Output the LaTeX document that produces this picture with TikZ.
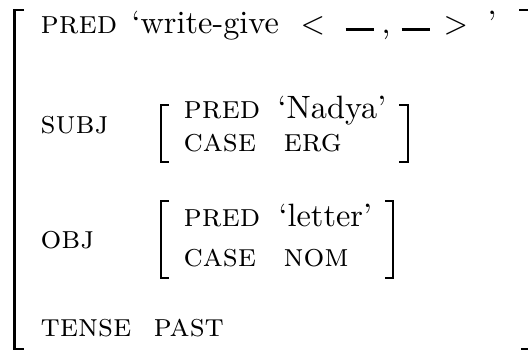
\documentclass[tikz,border=0pt]{standalone}
\usetikzlibrary{positioning}
\newcommand{\blank}{\rule[0.5pt]{8.2pt}{0.9pt}}
\begin{document}
\begin{tikzpicture}[x = 0.2941pt, y = -0.2941pt, every node/.style = {inner sep = 0pt, anchor = base west, font = \fontsize{9.5}{11}\selectfont}, attr/.style = {font = \fontsize{9.6}{11}\selectfont\scshape}, bracket/.style = {line width = 0.6pt}]
\useasboundingbox (0, 0) rectangle (528, 353);
% outer matrix
\draw[bracket] (24, 10) -- (14.5, 10) -- (14.5, 349) -- (24, 349);
\draw[bracket] (519, 10) -- (530, 10) -- (530, 349) -- (521, 349);
\node[attr] (pred) at (40, 33) {pred};
\node (predval) at (131, 33) {`write-give};
\node (lt) at (300, 33) {$<$};
\node (arga) at (345, 33) {\blank};
\node (comma) at (381, 33) {,};
\node (argb) at (401, 33) {\blank};
\node (gt) at (443, 33) {$>$};
\node (quote) at (487, 33) {'};
% subj
\node[attr] (subj) at (40, 133) {subj};
\draw[bracket] (169, 105) -- (161, 105) -- (161, 162) -- (169, 162);
\draw[bracket] (399, 105) -- (408, 105) -- (408, 162) -- (399, 162);
\node[attr] (subjpred) at (183, 118) {pred};
\node (subjpredval) at (277, 118) {`Nadya'};
\node[attr] (subjcase) at (183, 151) {case};
\node[attr] (subjcaseval) at (283, 151) {erg};
% obj
\node[attr] (obj) at (40, 248) {obj};
\draw[bracket] (169, 201) -- (161, 201) -- (161, 278) -- (169, 278);
\draw[bracket] (385, 201) -- (393, 201) -- (393, 278) -- (385, 278);
\node[attr] (objpred) at (183, 226) {pred};
\node (objpredval) at (278, 226) {`letter'};
\node[attr] (objcase) at (183, 266) {case};
\node[attr] (objcaseval) at (283, 266) {nom};
% tense
\node[attr] (tense) at (40, 336) {tense};
\node[attr] (tenseval) at (153, 336) {past};
\end{tikzpicture}
\end{document}
